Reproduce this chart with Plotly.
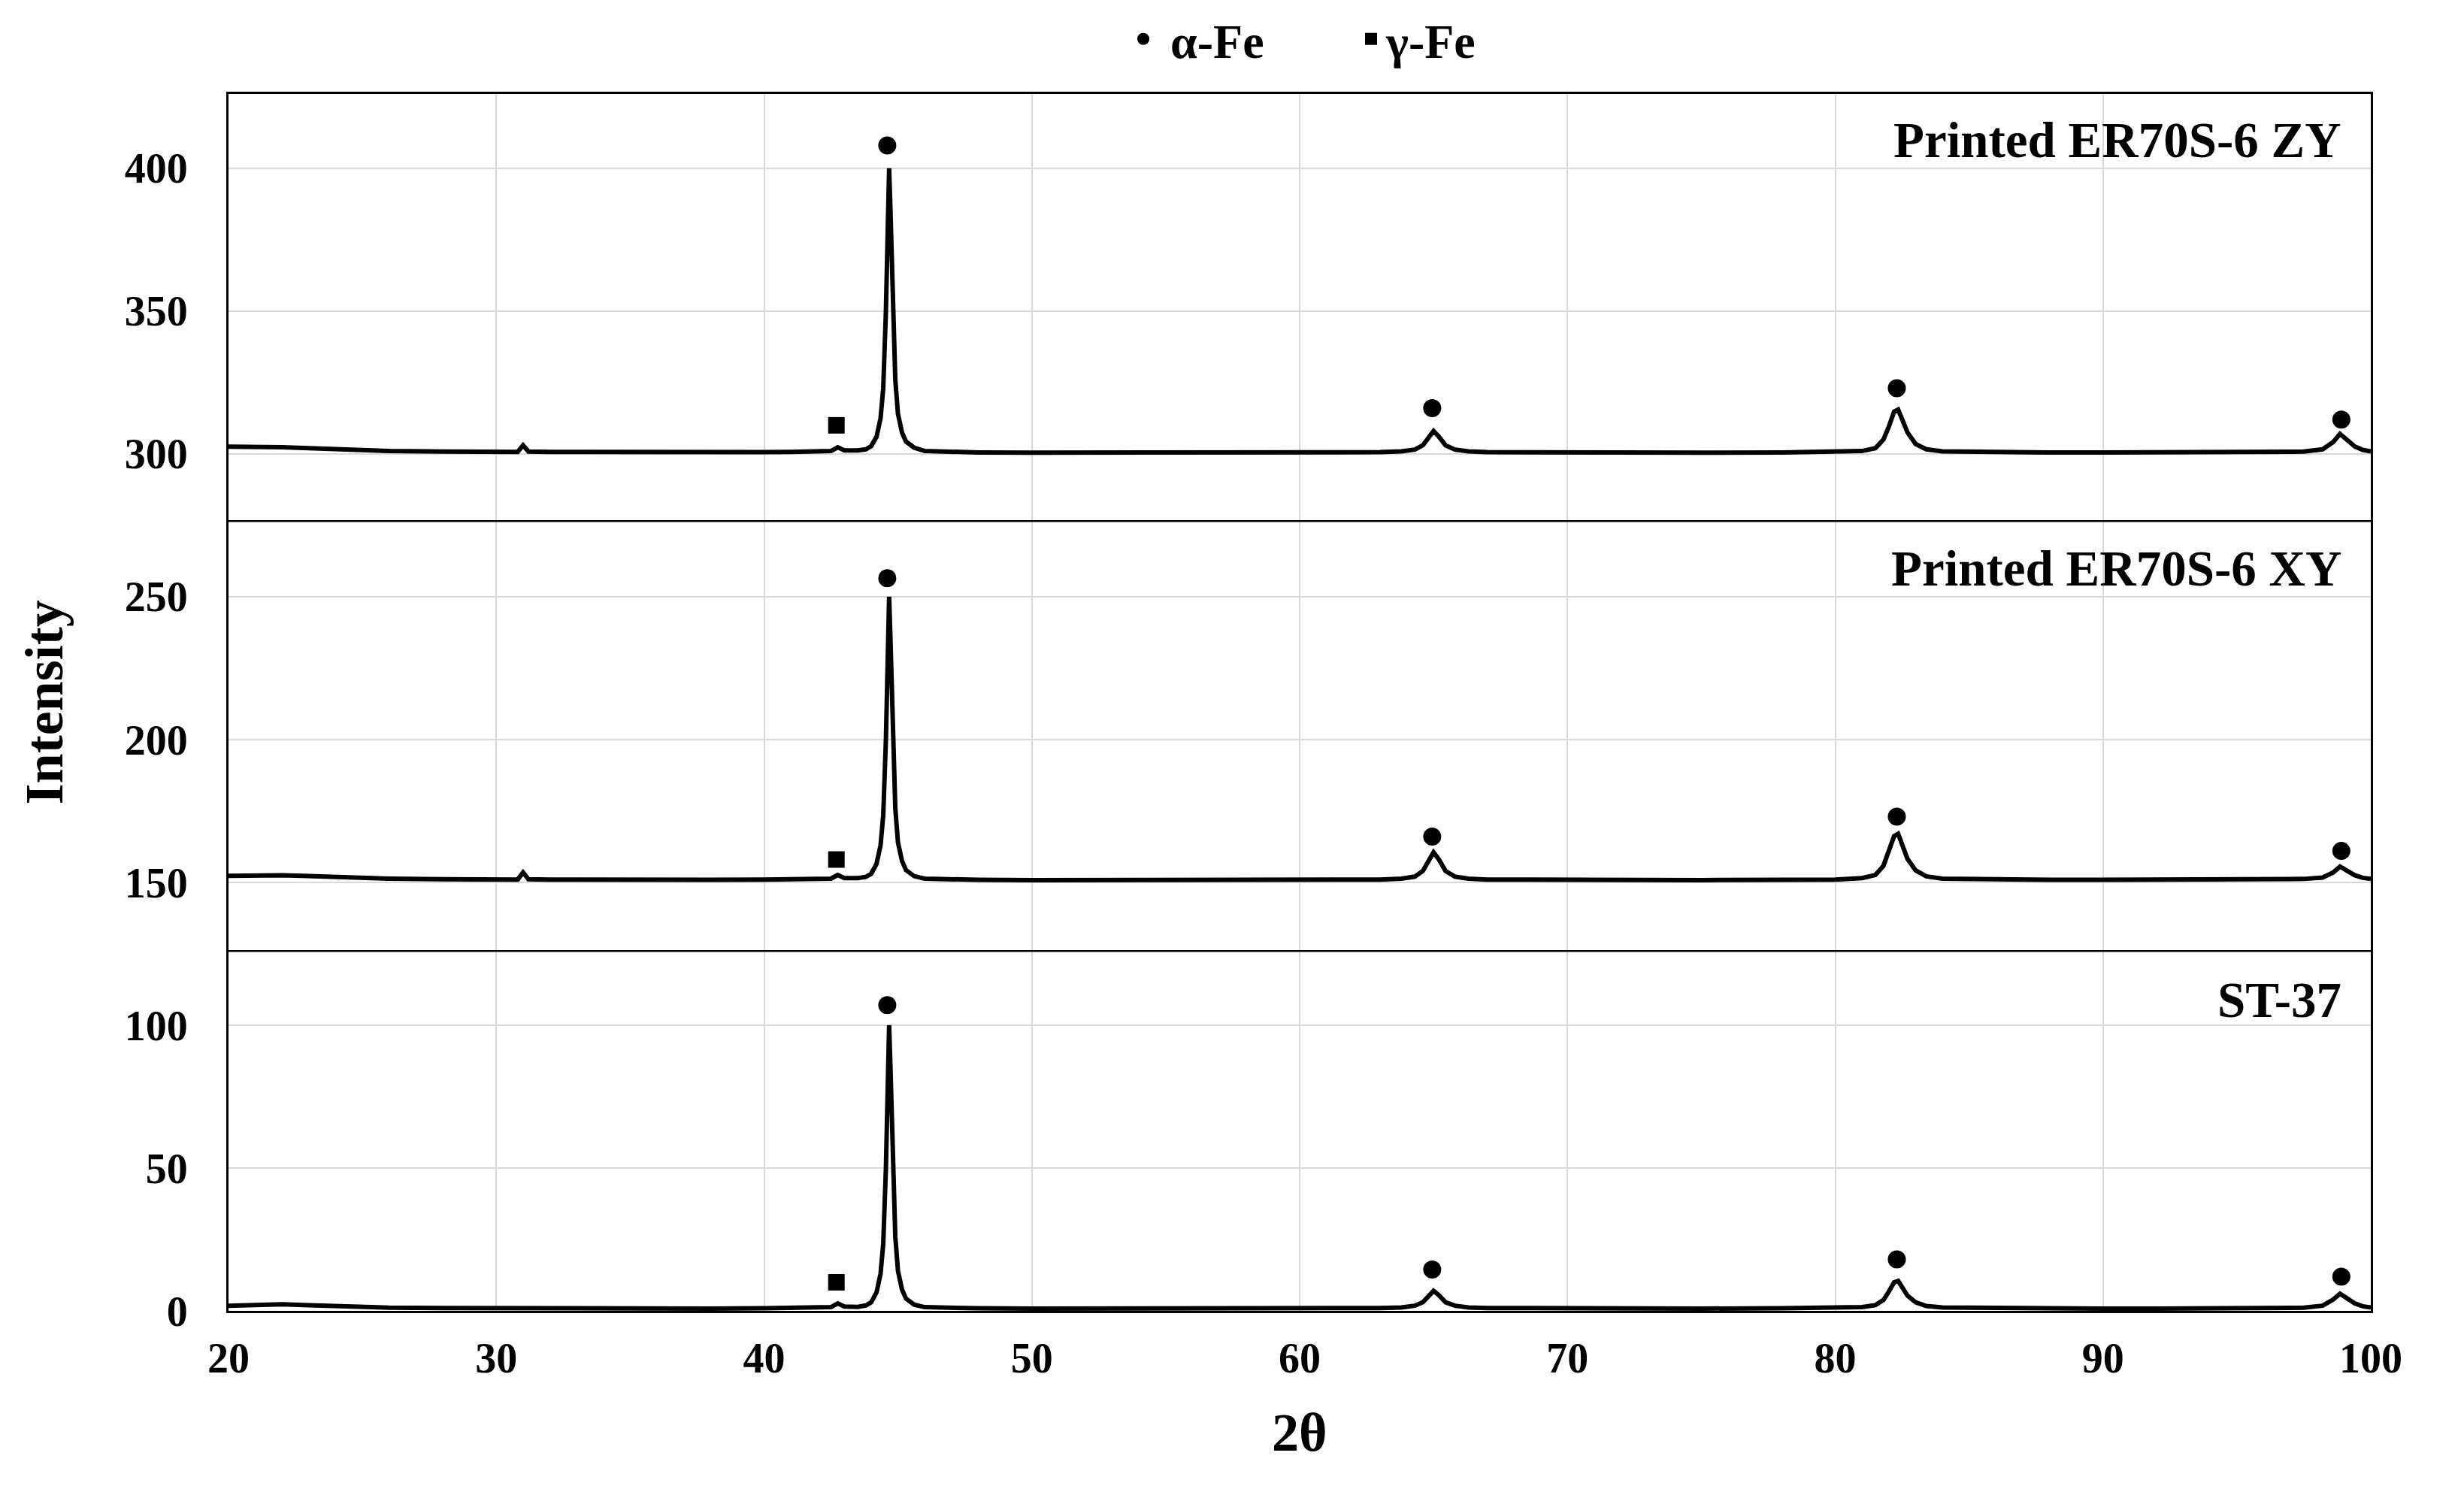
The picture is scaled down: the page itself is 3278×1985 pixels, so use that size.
import plotly.graph_objects as go

# ---------------- data ----------------
TWO_THETA = [20, 21, 22, 23, 24, 25, 26, 28, 30, 30.8, 31.0, 31.2, 32, 34, 36, 38, 40, 41, 42,
             42.5, 42.75, 43.0, 43.5, 43.8, 44.0, 44.2, 44.35, 44.45, 44.55, 44.62, 44.67, 44.72,
             44.8, 44.9, 45.0, 45.15, 45.3, 45.6, 46, 47, 48, 50, 52, 55, 58, 60, 62, 63,
             63.8, 64.3, 64.6, 64.8, 65.0, 65.2, 65.45, 65.8, 66.3, 67, 69, 72, 75, 78, 80, 81,
             81.5, 81.8, 82.0, 82.2, 82.35, 82.5, 82.7, 83.0, 83.4, 84, 86, 88, 90, 92, 94, 96,
             97.5, 98.2, 98.6, 98.85, 99.1, 99.4, 99.7, 100]

I_ZY = [302.5, 302.5, 302.3, 302.0, 301.6, 301.3, 301.0, 300.8, 300.7, 300.7, 303.0, 300.8, 300.7,
        300.6, 300.5, 300.5, 300.6, 300.7, 300.8,
        301.0, 302.3, 301.2, 301.2, 301.6, 302.7, 306.0, 312.5, 323, 350, 382, 400, 385,
        352, 326, 314, 307.5, 304.3, 302.2, 301.0, 300.7, 300.5, 300.4, 300.4, 300.3, 300.3, 300.4, 300.5, 300.6,
        300.9, 301.5, 303.0, 305.5, 308.0, 306.0, 303.0, 301.5, 300.9, 300.6, 300.5, 300.4, 300.4, 300.5, 300.6, 301.0,
        302.0, 305.0, 309.5, 314.8, 315.5, 312.0, 307.5, 303.5, 301.6, 300.9, 300.6, 300.5, 300.5, 300.5, 300.5, 300.6,
        300.8, 301.6, 304.2, 307.0, 304.8, 302.6, 301.4, 300.9]

I_XY = [152.3, 152.4, 152.5, 152.2, 151.8, 151.5, 151.3, 151.1, 151.0, 151.0, 153.5, 151.1, 151.0,
        150.9, 150.9, 150.9, 151.0, 151.0, 151.1,
        151.3, 152.6, 151.5, 151.5, 151.9, 153.0, 156.5, 163.0, 173.5, 200, 232, 250, 235,
        202, 176, 164, 157.5, 154.3, 152.2, 151.3, 151.0, 150.9, 150.8, 150.8, 150.8, 150.8, 150.8, 150.9, 151.0,
        151.3, 152.0, 154.0, 157.5, 160.5, 158.0, 154.0, 152.0, 151.3, 151.0, 150.9, 150.8, 150.8, 150.9, 151.0, 151.5,
        152.6, 155.8, 160.6, 166.2, 167.0, 163.0, 158.2, 154.2, 152.1, 151.3, 151.0, 150.9, 150.9, 150.9, 150.9, 151.0,
        151.2, 151.7, 153.5, 155.5, 154.0, 152.5, 151.6, 151.2]

I_ST = [1.8, 2.0, 2.3, 2.0, 1.6, 1.3, 1.1, 1.0, 0.9, 0.9, 1.0, 0.9, 0.9,
        0.8, 0.8, 0.8, 0.9, 1.0, 1.1,
        1.3, 2.6, 1.5, 1.4, 1.9, 3.0, 6.5, 13.0, 23.5, 50, 82, 100, 85,
        52, 26, 14, 7.5, 4.3, 2.2, 1.3, 1.0, 0.9, 0.8, 0.8, 0.8, 0.8, 0.8, 0.9, 1.0,
        1.2, 1.8, 3.0, 5.0, 7.0, 5.5, 3.0, 1.8, 1.2, 1.0, 0.9, 0.8, 0.8, 0.9, 1.0, 1.3,
        2.0, 3.8, 6.7, 10.0, 10.5, 8.0, 5.3, 3.0, 1.7, 1.2, 1.0, 0.9, 0.8, 0.8, 0.8, 0.9,
        1.1, 1.8, 4.0, 6.0, 4.3, 2.6, 1.6, 1.2]

SERIES_NAMES = ["Printed ER70S-6 ZY", "Printed ER70S-6 XY", "ST-37"]

ALPHA_X = [44.6, 64.95, 82.3, 98.9]
ALPHA_Y_ZY = [408, 316, 323, 312]
ALPHA_Y_XY = [256.5, 166, 173, 161]
ALPHA_Y_ST = [107, 14.5, 18, 12]

GAMMA_X = [42.7]
GAMMA_Y_ZY = [310]
GAMMA_Y_XY = [158]
GAMMA_Y_ST = [10]

LABEL_Y = [410, 260, 109]

X_TICKS = [20, 30, 40, 50, 60, 70, 80, 90, 100]
Y_TICKS = [0, 50, 100, 150, 200, 250, 300, 350, 400]
PANEL_BOUNDS = [126, 276.5]

# ---------------- figure ----------------
FONT = "Liberation Serif"
fig = go.Figure()

for ys in (I_ZY, I_XY, I_ST):
    fig.add_trace(go.Scatter(x=TWO_THETA, y=ys, mode="lines",
                             line=dict(color="black", width=6), showlegend=False,
                             hoverinfo="skip"))

fig.add_trace(go.Scatter(x=ALPHA_X * 3, y=ALPHA_Y_ZY + ALPHA_Y_XY + ALPHA_Y_ST,
                         mode="markers", name="\u00a0α-Fe",
                         marker=dict(symbol="circle", color="black", size=24)))
fig.add_trace(go.Scatter(x=GAMMA_X * 3, y=GAMMA_Y_ZY + GAMMA_Y_XY + GAMMA_Y_ST,
                         mode="markers", name="γ-Fe",
                         marker=dict(symbol="square", color="black", size=22)))

for name, ly in zip(SERIES_NAMES, LABEL_Y):
    fig.add_annotation(x=0.987, xref="paper", y=ly, yref="y", text="<b>%s</b>" % name,
                       showarrow=False, xanchor="right", yanchor="middle",
                       font=dict(family=FONT, size=67, color="black"))

for b in PANEL_BOUNDS:
    fig.add_shape(type="line", xref="paper", x0=0, x1=1, yref="y", y0=b, y1=b,
                  line=dict(color="black", width=2.5), layer="above")

fig.add_annotation(x=-0.086, xref="paper", y=0.5, yref="paper", text="<b>Intensity</b>",
                   textangle=-90, showarrow=False, xanchor="center", yanchor="middle",
                   font=dict(family=FONT, size=72, color="black"))
fig.add_annotation(x=0.5, xref="paper", y=-0.1, yref="paper", text="<b>2θ</b>",
                   showarrow=False, xanchor="center", yanchor="middle",
                   font=dict(family=FONT, size=72, color="black"))

fig.update_layout(
    width=3278, height=1985,
    margin=dict(l=296, r=132, t=117, b=249, autoexpand=False),
    paper_bgcolor="white", plot_bgcolor="white",
    font=dict(family=FONT, color="black"),
    legend=dict(orientation="h", x=0.42, xanchor="left", y=1.045, yanchor="middle",
                font=dict(family=FONT, size=64, color="black", weight="bold"),
                itemwidth=30, entrywidth=258, entrywidthmode="pixels",
                bgcolor="rgba(0,0,0,0)"),
    xaxis=dict(range=[20, 100], tickvals=X_TICKS, showgrid=True, gridcolor="#d9d9d9",
               gridwidth=2, showline=True, linecolor="black", linewidth=3, mirror=True,
               zeroline=False, ticks="", ticklabelstandoff=12,
               tickfont=dict(family=FONT, size=56, color="black", weight="bold")),
    yaxis=dict(range=[0, 426], tickvals=Y_TICKS, showgrid=True, gridcolor="#d9d9d9",
               gridwidth=2, showline=True, linecolor="black", linewidth=3, mirror=True,
               zeroline=False, ticks="", ticklabelstandoff=40,
               tickfont=dict(family=FONT, size=56, color="black", weight="bold")),
)

fig.write_html("out.html")
